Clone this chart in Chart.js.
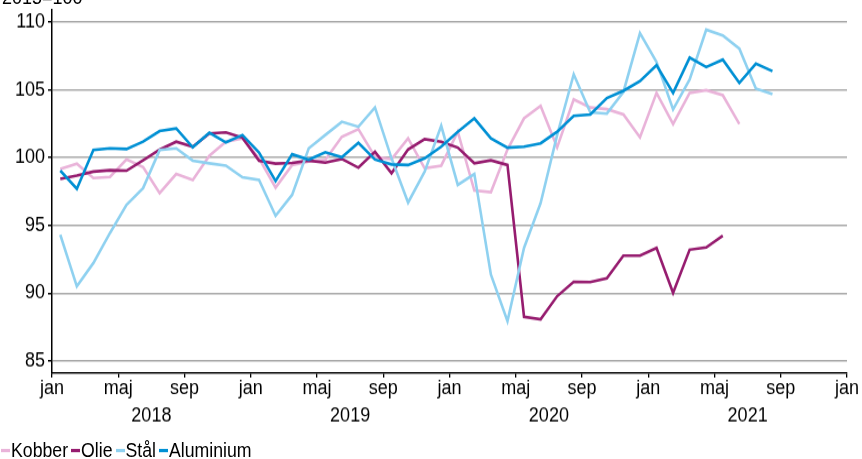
<!DOCTYPE html>
<html>
<head>
<meta charset="utf-8">
<script src="https://cdn.jsdelivr.net/npm/chart.js@4/dist/chart.umd.min.js"></script>
<style>
  html, body { margin: 0; padding: 0; background: #fff; }
  #wrap { position: relative; width: 862px; height: 459px; overflow: hidden; font-family: "Liberation Sans", Arial, sans-serif; }
  #cw { position: absolute; left: 0; top: 0; width: 862px; height: 417px; transform: scaleY(1.1007); transform-origin: 0 0; }
  #c { position: absolute; left: 0; top: 0; }
  #unit { position: absolute; left: 2px; top: -14px; font-size: 18px; line-height: 20px; color: #000; white-space: nowrap; transform: scaleY(1.1); transform-origin: 0 0; }
  #legend { position: absolute; left: 1px; top: 440px; font-size: 17.7px; line-height: 20px; color: #000; white-space: nowrap; transform: scaleY(1.1); transform-origin: 0 50%; }
  #legend .it { display: inline-block; margin-right: 3px; }
  #legend .mk { display: inline-block; width: 9px; height: 3px; vertical-align: middle; margin-right: 1px; position: relative; top: -1px; }
</style>
</head>
<body>
<div id="wrap">
  <div id="cw"><canvas id="c" width="862" height="417"></canvas></div>
  <div id="unit">2015=100</div>
  <div id="legend"></div>
</div>
<script>
// ---- Data (monthly, Jan 2018 onward) ----
const monthTickLabels = ['jan', 'maj', 'sep'];
const yearLabels = ['2018', '2019', '2020', '2021'];
const seriesNames = ['Kobber', 'Olie', 'Stål', 'Aluminium'];

const kobber = [99.17, 99.56, 98.5, 98.58, 99.88, 99.31, 97.38, 98.8, 98.36, 100.15, 101.18, 101.42,
  99.95, 97.79, 99.46, 99.71, 99.83, 101.54, 102.1, 100.07, 99.88, 101.43, 99.22, 99.41,
  101.91, 97.57, 97.45, 100.6, 102.9, 103.82, 100.76, 104.3, 103.7, 103.58, 103.19, 101.5,
  104.78, 102.48, 104.78, 104.98, 104.61, 102.48];

const olie = [98.43, 98.68, 98.97, 99.07, 99.04, 99.8, 100.59, 101.18, 100.81, 101.79, 101.86, 101.47,
  99.78, 99.56, 99.61, 99.78, 99.63, 99.9, 99.26, 100.44, 98.85, 100.6, 101.37, 101.18,
  100.74, 99.59, 99.8, 99.46, 88.26, 88.07, 89.78, 90.84, 90.82, 91.1, 92.77, 92.77,
  93.34, 90.03, 93.21, 93.38, 94.24];

const staal = [94.31, 90.51, 92.23, 94.44, 96.52, 97.75, 100.56, 100.69, 99.78, 99.58, 99.41, 98.55,
  98.36, 95.71, 97.26, 100.69, 101.67, 102.65, 102.28, 103.7, 99.95, 96.69, 98.97, 102.35,
  97.99, 98.79, 91.37, 87.94, 93.34, 96.65, 101.67, 106.15, 103.35, 103.25, 104.85, 109.19,
  107.06, 103.56, 105.76, 109.44, 109.02, 108.04, 105.1, 104.68];

const aluminium = [99.04, 97.7, 100.56, 100.69, 100.64, 101.18, 101.96, 102.16, 100.76, 101.84, 101.13, 101.67,
  100.37, 98.28, 100.25, 99.85, 100.4, 100.03, 101.1, 99.86, 99.5, 99.46, 99.95, 100.81,
  101.9, 102.9, 101.43, 100.74, 100.81, 101.06, 101.91, 103.09, 103.19, 104.4, 104.93, 105.64,
  106.82, 104.78, 107.38, 106.69, 107.23, 105.51, 106.94, 106.38];

const yTickValues = [85, 90, 95, 100, 105, 110];

// ---- Styles ----
const colors = ['#e9b3d9', '#961c6f', '#8fd1f0', '#0090d4'];
const allSeries = [kobber, olie, staal, aluminium];

const toPoints = arr => arr.map((v, i) => ({ x: i + 0.5, y: v }));

const datasets = allSeries.map((arr, k) => ({
  label: seriesNames[k],
  data: toPoints(arr),
  borderColor: colors[k],
  backgroundColor: colors[k],
  borderWidth: 2.6,
  pointRadius: 0,
  tension: 0,
  order: 4 - k
}));

// HTML legend built from series names
const lg = document.getElementById('legend');
seriesNames.forEach((n, k) => {
  const it = document.createElement('span');
  it.className = 'it';
  const mk = document.createElement('span');
  mk.className = 'mk';
  mk.style.background = colors[k];
  it.appendChild(mk);
  it.appendChild(document.createTextNode(n));
  lg.appendChild(it);
});

const FONT = { family: '"Liberation Sans", Arial, sans-serif', size: 18 };
const noPad = s => { s.paddingTop = 0; s.paddingBottom = 0; s.paddingLeft = 0; s.paddingRight = 0; };

new Chart(document.getElementById('c'), {
  type: 'line',
  data: { datasets },
  options: {
    responsive: false,
    animation: false,
    events: [],
    layout: { padding: { left: 0, right: 15, top: 9, bottom: 22 } },
    plugins: { legend: { display: false }, tooltip: { enabled: false }, title: { display: false } },
    scales: {
      x: {
        type: 'linear',
        position: 'bottom',
        min: 0, max: 48,
        afterBuildTicks: s => { s.ticks = []; for (let v = 0; v <= 48; v += 4) s.ticks.push({ value: v }); },
        afterFit: s => { s.height = 26; noPad(s); },
        ticks: {
          color: '#000', font: FONT, padding: -1, maxRotation: 0, autoSkip: false,
          callback: v => monthTickLabels[(v % 12) / 4]
        },
        grid: { drawOnChartArea: false, color: '#000', tickColor: '#000', tickLength: 4, lineWidth: 1.3 },
        border: { color: '#000', width: 1.5 }
      },
      x2: {
        type: 'linear',
        position: 'bottom',
        min: 0, max: 48,
        afterBuildTicks: s => { s.ticks = yearLabels.map((y, i) => ({ value: 6 + 12 * i })); },
        afterFit: s => { s.height = 30; noPad(s); },
        ticks: {
          color: '#000', font: FONT, padding: 2.5, maxRotation: 0, autoSkip: false,
          callback: (v) => yearLabels[(v - 6) / 12]
        },
        grid: { display: false, drawTicks: false },
        border: { display: false }
      },
      y: {
        min: 84.1, max: 110.9,
        afterBuildTicks: s => { s.ticks = yTickValues.map(v => ({ value: v })); },
        afterFit: s => { s.width = 52; noPad(s); },
        ticks: { color: '#000', font: FONT, padding: 3 },
        grid: { color: '#a8a8a8', lineWidth: 1.5, tickColor: '#000', tickLength: 4 },
        border: { color: '#000', width: 1.5 }
      }
    }
  }
});
</script>
</body>
</html>
